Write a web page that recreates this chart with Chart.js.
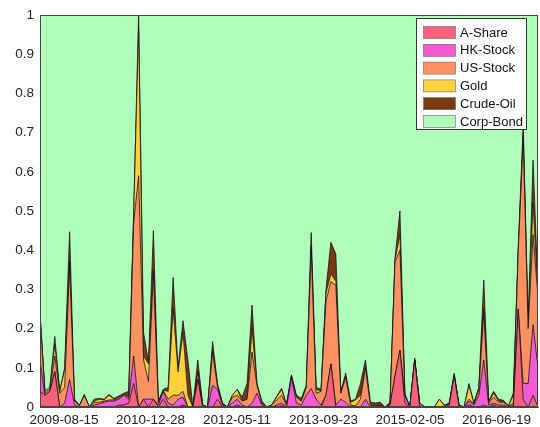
<!DOCTYPE html>
<html>
<head>
<meta charset="utf-8">
<script src="https://cdn.jsdelivr.net/npm/chart.js@4/dist/chart.umd.min.js"></script>
<style>
  html, body { margin: 0; padding: 0; background: #fff; }
  #wrap { width: 540px; height: 427px; position: relative; }
</style>
</head>
<body>
<div id="wrap"><canvas id="chart"></canvas></div>
<script>
// sample dates: first rebalance and spacing (days)
const startDate = "2009-03-29";
const stepDays = 28.5;

const tickDates = ["2009-08-15", "2010-12-28", "2012-05-11", "2013-09-23", "2015-02-05", "2016-06-19"];
const yTicks = [0, 0.1, 0.2, 0.3, 0.4, 0.5, 0.6, 0.7, 0.8, 0.9, 1];

const seriesNames = ["A-Share", "HK-Stock", "US-Stock", "Gold", "Crude-Oil", "Corp-Bond"];
const seriesColors = ["#f7627a", "#f35ad4", "#fc9262", "#fdd23c", "#7a3a0e", "#b0fcba"];

// portfolio weights per rebalance
const aShare = [
  .04, .03, .04, .09, 0, 0, 0, 0, 0, 0,
  0, 0, 0, 0, 0, 0, .005, .005, .01, .06,
  0, .02, 0, .02, 0, .02, 0, 0, 0, .005,
  0, 0, .07, 0, 0, 0, .02, 0, 0, 0,
  .005, 0, 0, 0, 0, 0, 0, 0, 0, .003,
  0, 0, 0, 0, 0, 0, 0, 0, .03, .11,
  0, 0, 0, 0, 0, 0, 0, 0, 0, 0,
  0, .005, .08, .145, .01, 0, .12, 0, 0, 0,
  0, 0, 0, .005, .08, 0, 0, .005, 0, 0,
  .005, 0, .005, 0, 0, 0, 0, .25, .02, 0,
  .03, 0
];
const hkStock = [
  .08, 0, 0, 0, 0, .01, .07, .005, 0, 0,
  0, .005, .008, .012, .015, .015, .015, .025, .01, .07,
  0, 0, .02, 0, .005, .02, .01, .005, .02, .02,
  0, 0, 0, 0, 0, .055, .025, .005, 0, .01,
  .015, .005, 0, .01, .035, .005, 0, 0, .005, .007,
  0, .075, .01, .005, .03, .047, .02, .005, 0, 0,
  .005, .02, .012, 0, 0, 0, .02, 0, 0, 0,
  0, 0, 0, 0, .02, 0, 0, .01, 0, 0,
  0, 0, 0, 0, 0, 0, 0, .01, .005, .03,
  .115, .005, .005, .005, .005, 0, .005, 0, .04, .06,
  .18, .10
];
const usStock = [
  .11, .005, .005, .04, .035, .04, .29, .01, .003, .03,
  0, .007, .004, .003, .003, .003, .002, .002, .005, .34,
  .59, .10, .045, .32, .005, .002, .01, .025, .01, .015,
  0, 0, .02, .005, 0, .085, .005, .003, 0, .015,
  .01, .01, .02, .13, .02, .005, 0, .005, .013, .02,
  .005, .003, .015, .01, .02, .353, .015, .035, .24, .21,
  .305, .015, .063, .005, .003, .02, .08, .005, .002, .003,
  0, .005, .29, .255, 0, 0, 0, 0, 0, 0,
  0, 0, .003, .003, 0, .003, 0, .005, .003, .015,
  .12, .005, .015, .007, .007, .002, .005, .15, .62, .14,
  .23, .18
];
const gold = [
  .005, .005, .005, .03, .005, .045, .01, 0, 0, 0,
  0, .003, .008, .003, .012, .002, .003, .001, .003, .02,
  .38, .01, .045, .01, .002, .001, .02, .22, .06, .15,
  .03, 0, 0, 0, 0, .005, .005, .002, 0, .005,
  .015, 0, 0, .06, .003, 0, 0, 0, .007, .015,
  0, .001, 0, 0, 0, .01, .01, 0, .02, .02,
  .01, .002, .003, .007, .015, .01, 0, 0, .001, .001,
  0, 0, .005, .04, .002, 0, 0, 0, 0, 0,
  0, .02, .001, .001, .001, .001, 0, .035, .002, .003,
  .01, .002, .01, .003, .002, .001, .02, 0, .02, .01,
  .08, .01
];
const crudeOil = [
  .005, 0, 0, .02, 0, .005, .077, .005, .002, .002,
  0, .005, .002, .002, .002, .002, .003, .002, .012, .01,
  .03, .06, .005, .10, .003, .002, .01, .08, .01, .03,
  .09, 0, .03, 0, 0, .022, .005, 0, 0, 0,
  0, .01, .04, .06, .002, .005, 0, 0, .002, .003,
  .002, .003, .005, .007, .005, .035, .005, .005, .01, .08,
  .07, .003, .008, .003, .002, .03, .02, .007, .007, .008,
  0, .002, .005, .06, .003, 0, .005, 0, 0, 0,
  0, 0, .001, .001, .005, .001, 0, .005, 0, .002,
  .074, .003, .005, .005, .003, 0, .005, .005, .02, .01,
  .11, .01
];
// weights sum to one, the bond share is the remainder
const corpBond = aShare.map((v, i) =>
  Math.max(0, 1 - v - hkStock[i] - usStock[i] - gold[i] - crudeOil[i])
);

const DAY = 86400000;
const dayOf = (s) => Date.parse(s) / DAY;
const startDay = dayOf(startDate);
const sampleDays = aShare.map((_, i) => startDay + i * stepDays);
const tickDays = tickDates.map(dayOf);

const allSeries = [aShare, hkStock, usStock, gold, crudeOil, corpBond];

const datasets = allSeries.map((vals, k) => ({
  label: seriesNames[k],
  data: vals.map((v, i) => ({ x: sampleDays[i], y: v })),
  backgroundColor: seriesColors[k],
  borderColor: "#111",
  borderWidth: 0.8,
  pointRadius: 0,
  tension: 0,
  fill: k === 0 ? "origin" : "-1",
}));

const FONT = "'Liberation Sans', Arial, sans-serif";

// axis box + legend inside the plot (matlab style)
const boxLegend = {
  id: "boxLegend",
  afterDatasetsDraw(chart) {
    const { ctx, chartArea: a } = chart;
    ctx.save();
    ctx.strokeStyle = "#444";
    ctx.lineWidth = 1;
    ctx.strokeRect(a.left + 0.5, a.top + 0.5, a.right - a.left - 1, a.bottom - a.top - 1);
    ctx.restore();
  },
  afterDraw(chart) {
    const ctx = chart.ctx;
    const bx = 416.5, by = 18.5, bw = 110, bh = 111;
    ctx.save();
    ctx.fillStyle = "#fff";
    ctx.fillRect(bx, by, bw, bh);
    ctx.strokeStyle = "#333";
    ctx.lineWidth = 1;
    ctx.strokeRect(bx, by, bw, bh);
    ctx.font = "13px " + FONT;
    ctx.textBaseline = "middle";
    seriesNames.forEach((name, k) => {
      const cy = 32.5 + k * 17.8;
      ctx.fillStyle = seriesColors[k];
      ctx.fillRect(423.5, cy - 6, 32, 12);
      ctx.strokeStyle = "#666";
      ctx.lineWidth = 0.6;
      ctx.strokeRect(423.5, cy - 6, 32, 12);
      ctx.fillStyle = "#111";
      ctx.fillText(name, 460, cy + 0.5);
    });
    ctx.restore();
  },
};

new Chart(document.getElementById("chart"), {
  type: "line",
  data: { datasets },
  options: {
    responsive: true,
    maintainAspectRatio: false,
    animation: false,
    layout: { padding: { top: 15, right: 2, left: 0, bottom: 0 } },
    plugins: { legend: { display: false }, tooltip: { enabled: false } },
    scales: {
      x: {
        type: "linear",
        min: sampleDays[0],
        max: sampleDays[sampleDays.length - 1],
        afterBuildTicks: (s) => { s.ticks = tickDays.map((v) => ({ value: v })); },
        afterFit: (s) => { s.height = 20; },
        grid: { display: false, drawTicks: false },
        border: { color: "#444" },
        ticks: {
          autoSkip: false,
          maxRotation: 0,
          padding: 5,
          color: "#222",
          font: { family: FONT, size: 13.5 },
          callback: (v, i) => tickDates[i],
        },
      },
      y: {
        stacked: true,
        min: 0,
        max: 1,
        afterBuildTicks: (s) => { s.ticks = yTicks.map((v) => ({ value: v })); },
        afterFit: (s) => { s.width = 40; },
        grid: { display: false, drawTicks: false },
        border: { color: "#444" },
        ticks: {
          padding: 6,
          color: "#222",
          font: { family: FONT, size: 13.5 },
          callback: (v) => String(Math.round(v * 10) / 10),
        },
      },
    },
  },
  plugins: [boxLegend],
});
</script>
</body>
</html>
